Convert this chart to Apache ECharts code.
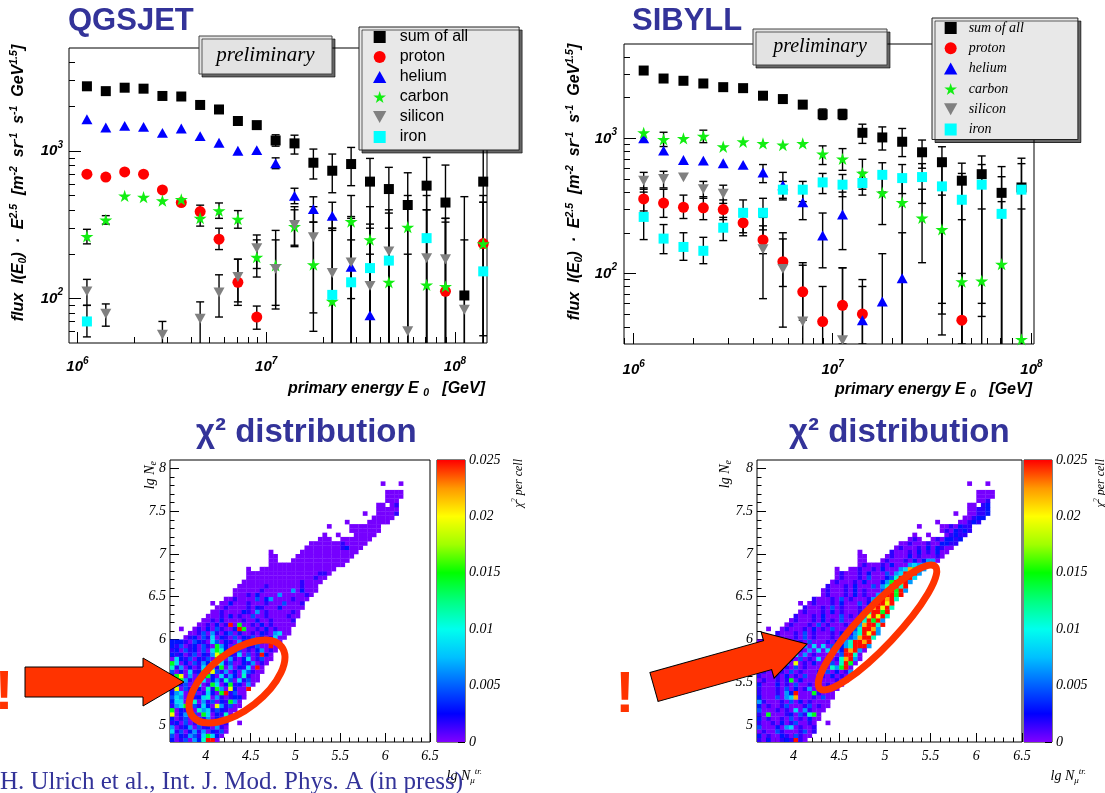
<!DOCTYPE html>
<html>
<head>
<meta charset="utf-8">
<title>QGSJET / SIBYLL unfolding</title>
<script src="https://cdn.jsdelivr.net/npm/echarts@6.0.0/dist/echarts.min.js"></script>
<style>
html,body{margin:0;padding:0;background:#ffffff;}
#chart{width:1105px;height:793px;}
</style>
</head>
<body>
<div id="chart"></div>
<script>
// ======================= DATA =======================
const _ = null;
const speciesNames = ['sum of all', 'proton', 'helium', 'carbon', 'silicon', 'iron'];

// ---- QGSJET: bin centres lg(E/GeV), flux * E^2.5 and error bar ends ----
const qgsLgE = [6.05,6.15,6.25,6.35,6.45,6.55,6.65,6.75,6.85,6.95,7.05,7.15,7.25,7.35,7.45,7.55,7.65,7.75,7.85,7.95,8.05,8.15];
const qgsSum   = [2750,2550,2690,2650,2365,2345,2055,1915,1600,1500,1180,1128,834,736,817,621,553,431,583,448,105,621];
const qgsSumLo = [_,_,_,_,_,_,_,_,_,_,1080,955,647,522,583,40,40,40,40,40,40,56];
const qgsSumHi = [_,_,_,_,_,_,_,_,_,_,1290,1282,1032,955,1059,892,776,713,906,804,491,1300];
const qgsProton   = [697,667,722,697,545,448,389,253,129,75,_,_,_,_,_,_,_,_,_,112,_,236];
const qgsProtonLo = [_,_,_,_,_,_,350,215,90,62,_,_,_,_,_,_,_,_,_,40,_,40];
const qgsProtonHi = [_,_,_,_,_,_,430,300,185,89,_,_,_,_,_,_,_,_,_,330,_,500];
const qgsHelium   = [1645,1445,1483,1460,1330,1423,1263,1138,1005,1016,826,497,404,364,164,77,_,_,_,_,_,_];
const qgsHeliumLo = [_,_,_,_,_,_,_,_,_,_,760,440,330,290,100,40,_,_,_,_,_,_];
const qgsHeliumHi = [_,_,_,_,_,_,_,_,_,_,900,560,490,450,250,200,_,_,_,_,_,_];
const qgsCarbon   = [264,342,497,487,461,471,351,395,346,191,168,308,170,96,333,251,129,305,124,121,_,236];
const qgsCarbonLo = [235,320,_,_,_,_,310,350,300,140,90,225,80,40,40,40,40,40,40,40,_,40];
const qgsCarbonHi = [295,365,_,_,_,_,395,445,395,250,290,420,330,300,500,420,300,500,400,350,_,450];
const qgsSilicon   = [112,79,_,_,57,_,73,110,140,220,159,316,261,149,176,122,209,60,188,185,84,_];
const qgsSiliconLo = [90,65,_,_,40,_,40,75,95,160,85,230,60,40,40,40,40,40,40,40,40,_];
const qgsSiliconHi = [135,92,_,_,70,_,95,145,185,270,250,400,420,350,360,300,380,200,400,350,250,_];
const qgsIron   = [70,_,_,_,_,_,_,_,_,_,_,_,_,106,129,161,181,_,257,_,_,153];
const qgsIronLo = [55,_,_,_,_,_,_,_,_,_,_,_,_,40,40,40,40,_,40,_,_,40];
const qgsIronHi = [90,_,_,_,_,_,_,_,_,_,_,_,_,300,350,320,400,_,500,_,_,450];

// ---- SIBYLL ----
const sibLgE = [6.05,6.15,6.25,6.35,6.45,6.55,6.65,6.75,6.85,6.95,7.05,7.15,7.25,7.35,7.45,7.55,7.65,7.75,7.85,7.95];
const sibSum   = [3180,2775,2670,2550,2395,2355,2070,1955,1778,1510,1510,1100,1016,944,789,666,486,543,395,433];
const sibSumLo = [_,_,_,_,_,_,_,_,_,1380,1380,918,820,733,601,35,20,48,20,20];
const sibSumHi = [_,_,_,_,_,_,_,_,_,1650,1640,1274,1216,1184,972,867,655,741,618,713];
const sibProton   = [356,332,309,306,297,237,177,122,73,44,58,50,_,_,_,_,45,_,_,_];
const sibProtonLo = [290,260,255,250,250,190,140,80,45,25,30,30,_,_,_,_,25,_,_,_];
const sibProtonHi = [430,420,380,370,350,300,225,180,115,80,110,80,_,_,_,_,100,_,_,_];
const sibHelium   = [1000,811,692,684,655,636,559,450,336,191,273,45,62,92,_,_,_,_,_,_];
const sibHeliumLo = [_,_,_,_,_,_,470,360,250,110,150,25,25,25,_,_,_,_,_,_];
const sibHeliumHi = [_,_,_,_,_,_,640,560,440,280,400,90,140,200,_,_,_,_,_,_];
const sibCarbon   = [1100,984,1000,1040,867,944,918,893,918,767,705,553,395,336,258,212,87,88,117,32.5];
const sibCarbonLo = [_,870,_,930,_,_,_,_,_,640,580,420,230,25,120,50,25,25,25,20];
const sibCarbonHi = [_,1110,_,1150,_,_,_,_,_,880,840,700,560,500,420,380,250,300,340,300];
const sibSilicon   = [486,500,514,421,389,_,151,108,44,_,32,_,_,_,_,_,_,_,_,_];
const sibSiliconLo = [420,430,_,360,330,_,65,40,20,_,20,_,_,_,_,_,_,_,_,_];
const sibSiliconHi = [560,570,_,480,450,_,260,200,120,_,110,_,_,_,_,_,_,_,_,_];
const sibIron   = [262,181,157,147,218,281,281,417,417,472,454,467,537,508,517,441,351,454,276,417];
const sibIronLo = [178,140,125,118,175,200,210,350,340,390,370,380,400,390,330,60,30,60,20,20];
const sibIronHi = [400,230,200,185,260,350,360,480,480,550,540,560,660,640,650,700,550,640,520,650];

// ---- axis ticks ----
const fluxMajorExp = [6, 7, 8];          // x labels 10^n
const fluxMajorExpY = [2, 3];            // y labels 10^n
const fluxDecades = [1, 2, 3, 5, 6, 7, 8];
const minorMult = [2, 3, 4, 5, 6, 7, 8, 9];
const heatXMajor = [4, 4.5, 5, 5.5, 6, 6.5];
const heatYMajor = [5, 5.5, 6, 6.5, 7, 7.5, 8];

// ---- chi^2 per cell maps: bins of 0.05 in lg N_mu (from 3.6) and lg N_e (from 4.8)
// each row (bottom -> top): [first column index, cell codes]; '.' = empty cell
const lgNmuStart = 3.6, lgNeStart = 4.8, cellSize = 0.05, chiMax = 0.025;
const chiLevel = {'0':0.0002,'1':0.0016,'2':0.003,'3':0.0045,'4':0.0065,'5':0.0085,'6':0.011,'7':0.0145,'8':0.0195,'9':0.022,'r':0.0248};
const qgsChiRows = [
 [0,"20130426rr0"],
 [0,"302143157520"],
 [0,"5130241402130"],
 [0,"4012403120410"],
 [0,"1203014021301..0"],
 [0,"20130231402100"],
 [0,"80241307502160"],
 [0,"702130645132100"],
 [0,"1457031520841300"],
 [0,"2550260413021740"],
 [0,"35403125604101220"],
 [0,"245013015207r1300"],
 [0,"18031520617408200r"],
 [0,"0413026017502712040"],
 [0,"28741035024163051300"],
 [0,"17804031720514206100"],
 [0,"302051270831402053100"],
 [0,"6140201535170402150r0"],
 [0,"7502031426851300214010"],
 [0,"05213021307604102501300"],
 [0,"21201302148702150301r20"],
 [0,"120312030576201301024010"],
 [0,"2130120310742031021300r00"],
 [0,"2221032105302104120310100"],
 [3,"01203150210302130201500"],
 [4,"00130410230200102104500"],
 [2,"0..0102031002r70010201000"],
 [6,"0010201r07001020100000"],
 [7,"001020000100200100001"],
 [8,"000102010030010000100"],
 [9,"00100002104010000010"],
 [10,"00100001021000200000"],
 [9,"0.0020001000100030001"],
 [12,"0010000302400001000"],
 [14,"000102000040000010"],
 [14,"0000001000000402000"],
 [15,"000000100000001000"],
 [16,"000000000000010000"],
 [17,"000000000000000100"],
 [17,"0000000000000000110"],
 [17,"0..00000000000000000"],
 [22,"00000000000000000"],
 [22,"00...0000000000000"],
 [22,"00....0000000000000"],
 [22,"0......0000000000000"],
 [30,"0000000012000"],
 [31,"0000000100000"],
 [33,"000..0000000"],
 [34,"0..0...00000"],
 [40,"0000000"],
 [35,"0....0000000"],
 [39,"0....00000"],
 [45,"00000"],
 [43,"0..00001"],
 [46,"00000"],
 [46,"00.01"],
 [48,"000"],
 [48,"0000"],
 [48,"0000"],
 [0,""],
 [47,"0...0"]
];
const sibChiRows = [
 [0,"10200121r10"],
 [0,"201002103100"],
 [0,"0100310001301"],
 [0,"3000204501001"],
 [0,"1001020130010..0"],
 [0,"20100103010200"],
 [0,"10700012031670"],
 [0,"300010105041000"],
 [0,"2010013000130100"],
 [0,"4100010302010000"],
 [0,"20003045900010300"],
 [0,"10001042r00071000"],
 [0,"100010302014000100"],
 [0,"2000201030010301000"],
 [0,"01001017020003000100"],
 [0,"10001020103000102010"],
 [0,"010001030100010302014"],
 [0,"2000201030100010647r0"],
 [0,"1000104080102000306r70"],
 [0,"01000102030105000169r40"],
 [0,"1000102050401000503rr60"],
 [0,"0100010301040505042r9r40"],
 [0,"100010203040505030246rrr4"],
 [0,"010001020103000102046rr9r"],
 [3,"01000103010001020349rr6"],
 [4,"1000103010001020146r8r4"],
 [2,"0..010001020103000136rr94"],
 [6,"010001030100010249rr6r"],
 [7,"01000102010300026r7r4"],
 [8,"10001020003010248r8r6"],
 [9,"0100010201000136rr7r"],
 [10,"1000103010001049r8r6"],
 [9,"0.010001020003026rr8r"],
 [12,"100010301000147r9r6"],
 [14,"01000102010046rr7r"],
 [14,"010001020100037r7r4"],
 [15,"10001020003046rr6r"],
 [16,"01000102000247r8r4"],
 [17,"01000103000236r9r5"],
 [17,"010001020003045r6r4"],
 [17,"0..00100102000459744"],
 [22,"01000102000454400"],
 [22,"00...0100010202440"],
 [22,"00....0100020100010"],
 [22,"0......1000102010200"],
 [30,"0100010202100"],
 [31,"0010001002211"],
 [33,"010..0102212"],
 [34,"0..0...01211"],
 [40,"0102121"],
 [35,"0....0010211"],
 [39,"0....00121"],
 [45,"00122"],
 [43,"0..00112"],
 [46,"00112"],
 [46,"00.12"],
 [48,"001"],
 [48,"0000"],
 [48,"0000"],
 [0,""],
 [46,"0...0"]
];
const palette = ['#8000ff','#0000ff','#0060ff','#00c0ff','#00ffee','#00ff80','#00ff00','#a0ff00','#ffff00','#ff9900','#ff0000'];

// ======================= STYLE =======================
const SANS = "'Liberation Sans', Arial, Helvetica, sans-serif";
const SERIF = "'Liberation Serif', 'Times New Roman', serif";
const NAVY = '#333399';
const ORANGE = '#ff3300';
const SQUARE = 'path://M0,0 L100,0 L100,100 L0,100 Z';
const UP_TRI = 'path://M50,0 L100,90 L0,90 Z';
const STAR = 'path://M50,0 L61,35 L98,35 L68,57 L79,91 L50,70 L21,91 L32,57 L2,35 L39,35 Z';
const DOWN_TRI = 'path://M0,0 L100,0 L50,90 Z';
const speciesStyle = [
  {symbol: SQUARE, size: 10, color: '#000000'},
  {symbol: 'circle', size: 11, color: '#ff0000'},
  {symbol: UP_TRI, size: 11, color: '#0000ff'},
  {symbol: STAR, size: 13, color: '#11ee11'},
  {symbol: DOWN_TRI, size: 11, color: '#808080'},
  {symbol: SQUARE, size: 10, color: '#00ffff'}
];

const tickRich = {
  b: {fontFamily: SANS, fontSize: 15, fontWeight: 'bold', fontStyle: 'italic', color: '#000', lineHeight: 22},
  s: {fontFamily: SANS, fontSize: 10, fontWeight: 'bold', fontStyle: 'italic', color: '#000', lineHeight: 9, verticalAlign: 'top'}
};
const nameRich = {
  t: {fontFamily: SANS, fontSize: 16, fontWeight: 'bold', fontStyle: 'italic', color: '#000', lineHeight: 20},
  sub: {fontFamily: SANS, fontSize: 10.5, fontWeight: 'bold', fontStyle: 'italic', color: '#000', lineHeight: 10, verticalAlign: 'bottom'},
  sup: {fontFamily: SANS, fontSize: 10.5, fontWeight: 'bold', fontStyle: 'italic', color: '#000', lineHeight: 10, verticalAlign: 'top'}
};
const logLabel = v => '{b|10}{s|' + Math.round(v) + '}';

function minorLogTicks(range) {
  const out = [];
  fluxDecades.forEach(n => minorMult.forEach(k => {
    const v = n + Math.log10(k);
    if (v > range[0] + 1e-6 && v < range[1] - 1e-6) out.push(v);
  }));
  return out;
}
function linearMinor(range, step, majors) {
  const out = [];
  const n = Math.round((range[1] - range[0]) / step);
  for (let i = 1; i < n; i++) {
    const v = +(range[0] + i * step).toFixed(4);
    if (!majors.some(m => Math.abs(m - v) < 1e-6)) out.push(v);
  }
  return out;
}

// ======================= AXES =======================
const TL = {x: [5.955, 8.17], y: [Math.log10(50), Math.log10(5000)]};
const TR = {x: [5.951, 8.013], y: [Math.log10(30), Math.log10(5000)]};
const HX = [3.6, 6.5], HY = [4.8, 8.1];

function fluxX(g, range, labelMargin) {
  const majors = fluxMajorExp.filter(v => v >= range[0] && v <= range[1]);
  return [{
    gridIndex: g, type: 'value', position: 'bottom', min: range[0], max: range[1],
    axisLine: {show: false, onZero: false},
    axisTick: {show: true, inside: true, length: 11, customValues: majors, lineStyle: {color: '#000', width: 1}},
    axisLabel: {show: true, customValues: majors, margin: labelMargin, formatter: logLabel, rich: tickRich},
    splitLine: {show: false},
    name: '{t|primary energy E }{sub|0}{t|   [GeV]}',
    nameLocation: 'end', nameGap: -2, nameMoveOverlap: false,
    nameTextStyle: {align: 'right', verticalAlign: 'top', padding: [36, 0, 0, 0], rich: nameRich}
  }, {
    gridIndex: g, type: 'value', position: 'bottom', min: range[0], max: range[1],
    axisLine: {show: false, onZero: false},
    axisTick: {show: true, inside: true, length: 6, customValues: minorLogTicks(range), lineStyle: {color: '#000', width: 1}},
    axisLabel: {show: false}, splitLine: {show: false}
  }];
}
function fluxY(g, range, labelMargin, nameGap, shift) {
  const majors = fluxMajorExpY.filter(v => v >= range[0] && v <= range[1]);
  return [{
    gridIndex: g, type: 'value', position: 'left', min: range[0], max: range[1],
    axisLine: {show: false, onZero: false},
    axisTick: {show: true, inside: true, length: 12, customValues: majors, lineStyle: {color: '#000', width: 1}},
    axisLabel: {show: true, customValues: majors, margin: labelMargin, formatter: logLabel, rich: tickRich},
    splitLine: {show: false},
    name: '{t|flux  I(E}{sub|0}{t|)  ·  E}{sup|2.5}{t|  [m}{sup|-2}{t|  sr}{sup|-1}{t|  s}{sup|-1}{t|  GeV}{sup|1.5}{t|]}',
    nameLocation: 'middle', nameGap: nameGap, nameRotate: 90, nameMoveOverlap: false,
    nameTextStyle: {padding: [0, 0, 0, shift], rich: nameRich}
  }, {
    gridIndex: g, type: 'value', position: 'left', min: range[0], max: range[1],
    axisLine: {show: false, onZero: false},
    axisTick: {show: true, inside: true, length: 6, customValues: minorLogTicks(range), lineStyle: {color: '#000', width: 1}},
    axisLabel: {show: false}, splitLine: {show: false}
  }];
}
const heatLabel = {fontFamily: SERIF, fontStyle: 'italic', fontSize: 14, color: '#000'};
function heatX(g) {
  return [{
    gridIndex: g, type: 'value', position: 'bottom', min: HX[0], max: HX[1],
    axisLine: {show: false, onZero: false},
    axisTick: {show: true, inside: true, length: 9, customValues: heatXMajor, lineStyle: {color: '#000'}},
    axisLabel: Object.assign({customValues: heatXMajor, margin: 7}, heatLabel),
    splitLine: {show: false}
  }, {
    gridIndex: g, type: 'value', position: 'bottom', min: HX[0], max: HX[1],
    axisLine: {show: false, onZero: false},
    axisTick: {show: true, inside: true, length: 4.5, customValues: linearMinor(HX, 0.1, heatXMajor), lineStyle: {color: '#000'}},
    axisLabel: {show: false}, splitLine: {show: false}
  }];
}
function heatY(g) {
  return [{
    gridIndex: g, type: 'value', position: 'left', min: HY[0], max: HY[1],
    axisLine: {show: false, onZero: false},
    axisTick: {show: true, inside: true, length: 9, customValues: heatYMajor, lineStyle: {color: '#000'}},
    axisLabel: Object.assign({customValues: heatYMajor, margin: 4}, heatLabel),
    splitLine: {show: false}
  }, {
    gridIndex: g, type: 'value', position: 'left', min: HY[0], max: HY[1],
    axisLine: {show: false, onZero: false},
    axisTick: {show: true, inside: true, length: 4.5, customValues: linearMinor(HY, 0.1, heatYMajor), lineStyle: {color: '#000'}},
    axisLabel: {show: false}, splitLine: {show: false}
  }];
}
function paletteX(g) {
  return {gridIndex: g, type: 'value', min: 0, max: 1, show: false};
}
function paletteY(g) {
  return {
    gridIndex: g, type: 'value', position: 'right', min: 0, max: chiMax, interval: 0.005,
    axisLine: {show: false, onZero: false},
    axisTick: {show: true, inside: true, length: 7, lineStyle: {color: '#000'}},
    minorTick: {show: true, splitNumber: 2, length: 4, lineStyle: {color: '#000'}},
    axisLabel: {fontFamily: SERIF, fontStyle: 'italic', fontSize: 14, color: '#000', margin: 4,
                formatter: v => String(+v.toFixed(3))},
    splitLine: {show: false}, minorSplitLine: {show: false}
  };
}

const xAxes = [].concat(fluxX(0, TL.x, 13), fluxX(1, TR.x, 15), heatX(2), heatX(3), [paletteX(4), paletteX(5)]);
const yAxes = [].concat(fluxY(0, TL.y, 6, 40, 25), fluxY(1, TR.y, 7, 39, 24), heatY(2), heatY(3), [paletteY(4), paletteY(5)]);

// ======================= SERIES =======================
const series = [];
function addFlux(lgE, values, lows, highs, axisIndex) {
  values.forEach((vals, i) => {
    const st = speciesStyle[i];
    const pts = [];
    vals.forEach((v, k) => { if (v != null) pts.push([lgE[k], Math.log10(v)]); });
    series.push({
      type: 'scatter', name: speciesNames[i], xAxisIndex: axisIndex, yAxisIndex: axisIndex,
      symbol: st.symbol, symbolSize: st.size, symbolKeepAspect: true,
      itemStyle: {color: st.color, opacity: 1}, z: 5 + i, silent: true,
      emphasis: {disabled: true}, data: pts
    });
  });
  const bars = [];
  values.forEach((vals, i) => vals.forEach((v, k) => {
    if (v != null && lows[i][k] != null && highs[i][k] != null)
      bars.push([lgE[k], Math.log10(lows[i][k]), Math.log10(highs[i][k])]);
  }));
  series.push({
    type: 'custom', name: 'errors', xAxisIndex: axisIndex, yAxisIndex: axisIndex, clip: true, silent: true, z: 3,
    encode: {x: 0, y: [1, 2]}, data: bars,
    renderItem(params, api) {
      const x = api.value(0);
      const lo = api.coord([x, api.value(1)]);
      const hi = api.coord([x, api.value(2)]);
      const st = {stroke: '#000', lineWidth: 1.4};
      return {type: 'group', children: [
        {type: 'line', shape: {x1: lo[0], y1: lo[1], x2: hi[0], y2: hi[1]}, style: st},
        {type: 'line', shape: {x1: lo[0] - 4, y1: lo[1], x2: lo[0] + 4, y2: lo[1]}, style: st},
        {type: 'line', shape: {x1: hi[0] - 4, y1: hi[1], x2: hi[0] + 4, y2: hi[1]}, style: st}
      ]};
    }
  });
}
addFlux(qgsLgE, [qgsSum, qgsProton, qgsHelium, qgsCarbon, qgsSilicon, qgsIron],
        [qgsSumLo, qgsProtonLo, qgsHeliumLo, qgsCarbonLo, qgsSiliconLo, qgsIronLo],
        [qgsSumHi, qgsProtonHi, qgsHeliumHi, qgsCarbonHi, qgsSiliconHi, qgsIronHi], 0);
addFlux(sibLgE, [sibSum, sibProton, sibHelium, sibCarbon, sibSilicon, sibIron],
        [sibSumLo, sibProtonLo, sibHeliumLo, sibCarbonLo, sibSiliconLo, sibIronLo],
        [sibSumHi, sibProtonHi, sibHeliumHi, sibCarbonHi, sibSiliconHi, sibIronHi], 2);

function cellsFrom(rows) {
  const out = [];
  rows.forEach((row, r) => {
    const c0 = row[0], s = row[1];
    for (let i = 0; i < s.length; i++) {
      const ch = s[i];
      if (ch === '.' || chiLevel[ch] == null) continue;
      out.push([+(lgNmuStart + (c0 + i) * cellSize).toFixed(3), +(lgNeStart + r * cellSize).toFixed(3), chiLevel[ch]]);
    }
  });
  return out;
}
const heatIdx = [];
function addHeat(rows, axisIndex) {
  heatIdx.push(series.length);
  series.push({
    type: 'custom', name: 'chi2', xAxisIndex: axisIndex, yAxisIndex: axisIndex, clip: true, silent: true, z: 2,
    encode: {x: 0, y: 1}, data: cellsFrom(rows),
    renderItem(params, api) {
      const x = api.value(0), y = api.value(1);
      const a = api.coord([x, y + cellSize]);
      const b = api.coord([x + cellSize, y]);
      return {type: 'rect', shape: {x: a[0], y: a[1], width: b[0] - a[0] + 0.3, height: b[1] - a[1] + 0.3},
              style: {fill: api.visual('color')}};
    }
  });
}
addHeat(qgsChiRows, 4);
addHeat(sibChiRows, 6);

function addPalette(axisIndex) {
  series.push({
    type: 'custom', name: 'palette', xAxisIndex: axisIndex, yAxisIndex: axisIndex, silent: true, z: 2,
    data: [[0, chiMax]],
    renderItem(params, api) {
      const top = api.coord([0, api.value(1)]);
      const bot = api.coord([1, 0]);
      return {type: 'rect', shape: {x: top[0], y: top[1], width: bot[0] - top[0], height: bot[1] - top[1]},
        style: {fill: new echarts.graphic.LinearGradient(0, 1, 0, 0,
          palette.map((c, i) => ({offset: i / (palette.length - 1), color: c})))}};
    }
  });
}
addPalette(8);
addPalette(9);

// ======================= OPTION =======================
const gridBase = {show: true, borderColor: '#000', borderWidth: 1, backgroundColor: 'transparent', outerBoundsMode: 'none', containLabel: false};
const grids = [
  {left: 69, top: 48, width: 418, height: 295},
  {left: 624, top: 44, width: 410, height: 300},
  {left: 170, top: 460, width: 260, height: 282},
  {left: 757, top: 460, width: 265, height: 282},
  {left: 437, top: 460, width: 28, height: 282},
  {left: 1024, top: 460, width: 28, height: 282}
].map(g => Object.assign({}, gridBase, g));

const titleStyle = {fontFamily: SANS, fontSize: 31, fontWeight: 'bold', color: NAVY};
const chiTitleStyle = {fontFamily: SANS, fontSize: 33, fontWeight: 'bold', color: NAVY};
const serifIt = (size) => ({fontFamily: SERIF, fontStyle: 'italic', fontSize: size, fill: '#000'});
const legendBox = {orient: 'vertical', backgroundColor: '#e8e8e8', borderColor: '#222', borderWidth: 1,
  shadowColor: 'rgba(0,0,0,0.6)', shadowBlur: 0.1, shadowOffsetX: 3, shadowOffsetY: 3, selectedMode: false, z: 20};

const option = {
  animation: false,
  backgroundColor: '#ffffff',
  textStyle: {fontFamily: SANS},
  title: [
    {text: 'QGSJET', left: 68, top: 6, padding: 0, textStyle: titleStyle},
    {text: 'SIBYLL', left: 632, top: 6, padding: 0, textStyle: titleStyle},
    {text: 'χ² distribution', left: 196, top: 416, padding: 0, textStyle: chiTitleStyle},
    {text: 'χ² distribution', left: 789, top: 416, padding: 0, textStyle: chiTitleStyle}
  ],
  legend: [
    Object.assign({data: speciesNames, left: 359, top: 27, itemWidth: 30, itemHeight: 12, itemGap: 4,
     padding: [2, 51, 5, 14], textStyle: {fontFamily: SANS, fontSize: 16, color: '#000'}}, legendBox),
    Object.assign({data: speciesNames, left: 932, top: 18, itemWidth: 26, itemHeight: 12, itemGap: 6.3,
     padding: [3, 54, 3, 12], textStyle: {fontFamily: SERIF, fontStyle: 'italic', fontSize: 14, color: '#000'}}, legendBox)
  ],
  grid: grids,
  xAxis: xAxes,
  yAxis: yAxes,
  visualMap: [{type: 'continuous', show: false, min: 0, max: chiMax, dimension: 2, seriesIndex: heatIdx,
               inRange: {color: palette}}],
  series: series,
  graphic: {elements: [
    // "preliminary" boxes
    {type: 'rect', z: 100, shape: {x: 199, y: 36, width: 133, height: 38},
     style: {fill: '#e3e3e3', stroke: '#444', lineWidth: 1, shadowColor: 'rgba(0,0,0,0.6)', shadowBlur: 0.1, shadowOffsetX: 3, shadowOffsetY: 3}},
    {type: 'text', z: 101, x: 265.5, y: 55, style: Object.assign({text: 'preliminary', align: 'center', verticalAlign: 'middle'}, serifIt(21))},
    {type: 'rect', z: 100, shape: {x: 753, y: 29, width: 134, height: 36},
     style: {fill: '#e3e3e3', stroke: '#444', lineWidth: 1, shadowColor: 'rgba(0,0,0,0.6)', shadowBlur: 0.1, shadowOffsetX: 3, shadowOffsetY: 3}},
    {type: 'text', z: 101, x: 820, y: 47, style: Object.assign({text: 'preliminary', align: 'center', verticalAlign: 'middle'}, serifIt(20))},
    // heat map axis titles
    {type: 'text', z: 100, x: 150, y: 461, rotation: Math.PI / 2,
     style: {text: '{a|lg N}{b|e}', align: 'right', verticalAlign: 'middle',
             rich: {a: Object.assign({lineHeight: 17}, serifIt(14)), b: Object.assign({lineHeight: 9, verticalAlign: 'bottom'}, serifIt(10))}}},
    {type: 'text', z: 100, x: 725, y: 460, rotation: Math.PI / 2,
     style: {text: '{a|lg N}{b|e}', align: 'right', verticalAlign: 'middle',
             rich: {a: Object.assign({lineHeight: 17}, serifIt(14)), b: Object.assign({lineHeight: 9, verticalAlign: 'bottom'}, serifIt(10))}}},
    {type: 'text', z: 100, x: 482, y: 776,
     style: {text: '{a|lg N}{b|μ}{c|tr.}', align: 'right', verticalAlign: 'middle',
             rich: {a: Object.assign({lineHeight: 18}, serifIt(14)), b: Object.assign({lineHeight: 9, verticalAlign: 'bottom'}, serifIt(9)),
                    c: Object.assign({lineHeight: 9, verticalAlign: 'top'}, serifIt(9))}}},
    {type: 'text', z: 100, x: 1086, y: 776,
     style: {text: '{a|lg N}{b|μ}{c|tr.}', align: 'right', verticalAlign: 'middle',
             rich: {a: Object.assign({lineHeight: 18}, serifIt(14)), b: Object.assign({lineHeight: 9, verticalAlign: 'bottom'}, serifIt(9)),
                    c: Object.assign({lineHeight: 9, verticalAlign: 'top'}, serifIt(9))}}},
    // palette titles
    {type: 'text', z: 100, x: 519, y: 459, rotation: Math.PI / 2,
     style: {text: '{a|χ}{s|2}{a| per cell}', align: 'right', verticalAlign: 'middle',
             rich: {a: Object.assign({lineHeight: 16}, serifIt(12)), s: Object.assign({lineHeight: 8, verticalAlign: 'top'}, serifIt(8))}}},
    {type: 'text', z: 100, x: 1101, y: 459, rotation: Math.PI / 2,
     style: {text: '{a|χ}{s|2}{a| per cell}', align: 'right', verticalAlign: 'middle',
             rich: {a: Object.assign({lineHeight: 16}, serifIt(12)), s: Object.assign({lineHeight: 8, verticalAlign: 'top'}, serifIt(8))}}},
    // arrows, ellipses, exclamation marks
    {type: 'polygon', z: 102, x: 25, y: 682,
     shape: {points: [[0, -15], [118, -15], [118, -24], [159, 0], [118, 24], [118, 15], [0, 15]]},
     style: {fill: ORANGE, stroke: '#000', lineWidth: 1}},
    {type: 'polygon', z: 102, x: 654, y: 687, rotation: 0.274,
     shape: {points: [[0, -15], [118, -15], [118, -24], [159, 0], [118, 24], [118, 15], [0, 15]]},
     style: {fill: ORANGE, stroke: '#000', lineWidth: 1}},
    {type: 'ellipse', z: 103, x: 237, y: 681.5, rotation: 0.663, shape: {cx: 0, cy: 0, rx: 56.5, ry: 28.5},
     style: {fill: null, stroke: ORANGE, lineWidth: 7}},
    {type: 'ellipse', z: 103, x: 877.5, y: 627.5, rotation: 0.815, shape: {cx: 0, cy: 0, rx: 84, ry: 19},
     style: {fill: null, stroke: ORANGE, lineWidth: 7}},
    {type: 'text', z: 103, x: 4, y: 694,
     style: {text: '!', fontFamily: SANS, fontWeight: 'bold', fontSize: 56, fill: ORANGE, align: 'center', verticalAlign: 'middle'}},
    {type: 'text', z: 103, x: 625, y: 696,
     style: {text: '!', fontFamily: SANS, fontWeight: 'bold', fontSize: 58, fill: ORANGE, align: 'center', verticalAlign: 'middle'}},
    // citation
    {type: 'text', z: 110, x: 0, y: 782,
     style: {text: 'H. Ulrich et al., Int. J. Mod. Phys. A (in press)', fontFamily: SERIF, fontSize: 25, fill: NAVY, align: 'left', verticalAlign: 'middle'}}
  ]}
};

const chart = echarts.init(document.getElementById('chart'), null, {renderer: 'canvas', width: 1105, height: 793});
chart.setOption(option);
</script>
</body>
</html>
